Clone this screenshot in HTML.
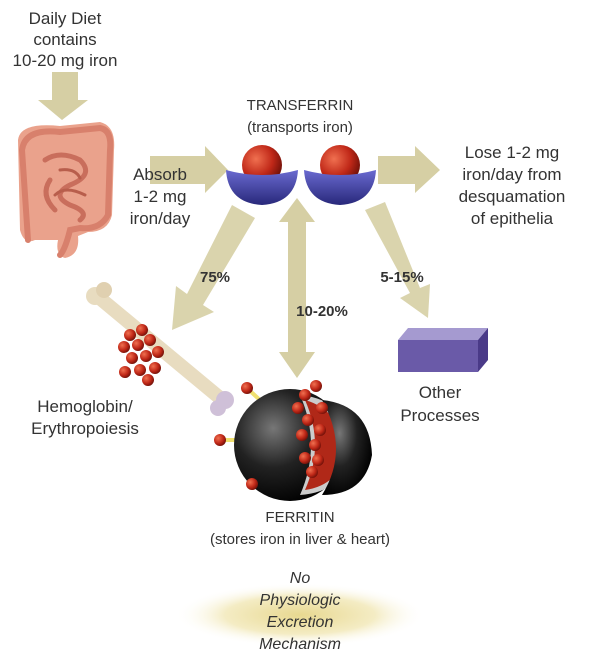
<!DOCTYPE html>
<html><head><meta charset="utf-8"><style>
html,body{margin:0;padding:0;background:#fff;}
svg{display:block;}
text{font-family:"Liberation Sans",sans-serif;fill:#333;}
</style></head><body>
<svg width="600" height="660" viewBox="0 0 600 660" xmlns="http://www.w3.org/2000/svg">
<defs>
<radialGradient id="ball" cx="0.35" cy="0.35" r="0.7"><stop offset="0" stop-color="#f07050"/><stop offset="0.6" stop-color="#c02818"/><stop offset="1" stop-color="#701008"/></radialGradient>
<radialGradient id="dark" cx="0.35" cy="0.35" r="0.7"><stop offset="0" stop-color="#777"/><stop offset="0.5" stop-color="#222"/><stop offset="1" stop-color="#000"/></radialGradient>
<linearGradient id="bowl" x1="0" y1="0" x2="0" y2="1"><stop offset="0" stop-color="#6a6ad0"/><stop offset="1" stop-color="#28287a"/></linearGradient>
<radialGradient id="glow" cx="0.5" cy="0.5" r="0.5"><stop offset="0" stop-color="#e8d890"/><stop offset="0.6" stop-color="#f4ecc4"/><stop offset="1" stop-color="#fff" stop-opacity="0"/></radialGradient>
<g id="rb"><circle r="6" fill="url(#ball)"/></g>
</defs>
<rect width="600" height="660" fill="#fff"/>
<g font-size="17" text-anchor="middle">
<text x="65" y="24">Daily Diet</text><text x="65" y="45">contains</text><text x="65" y="66">10-20 mg iron</text>
</g>
<polygon points="52,72 78,72 78,100 88,100 62,120 38,100 52,100" fill="#d6cfa4"/>
<!-- intestine -->
<path d="M18,140 Q20,122 60,126 L100,122 Q116,126 114,150 L112,215 Q108,232 88,232 L78,236 Q80,255 65,258 Q55,255 58,240 L35,240 Q24,245 20,230 Z" fill="#eaa28c"/>
<g fill="none" stroke-linecap="round">
<path d="M28,240 L22,150 Q25,128 60,132 L100,128 Q112,130 110,150 L108,215 Q100,230 80,228 L70,230 Q65,250 60,255" stroke="#d8806c" stroke-width="6"/>
<path d="M45,160 Q60,150 80,160 Q95,175 70,185 Q50,195 70,205 Q90,212 80,220 M50,180 Q40,195 55,210" stroke="#c96e5c" stroke-width="5"/>
<path d="M60,170 Q75,168 80,178 M55,195 Q65,185 85,195" stroke="#b85e4c" stroke-width="3"/>
</g>
<polygon points="150,156 205,156 205,146 228,170 205,193 205,184 150,184" fill="#d6cfa4"/>
<g font-size="17" text-anchor="middle">
<text x="160" y="180">Absorb</text><text x="160" y="202">1-2 mg</text><text x="160" y="224">iron/day</text>
</g>
<g font-size="15" text-anchor="middle"><text x="300" y="110">TRANSFERRIN</text><text x="300" y="132">(transports iron)</text></g>
<circle cx="262" cy="165" r="20" fill="url(#ball)"/>
<circle cx="340" cy="165" r="20" fill="url(#ball)"/>
<path d="M226,170 Q228,203 262,205 Q296,203 298,170 Q262,180 226,170Z" fill="url(#bowl)"/>
<path d="M304,170 Q306,203 340,205 Q374,203 376,170 Q340,180 304,170Z" fill="url(#bowl)"/>
<polygon points="378,156 415,156 415,146 440,170 415,193 415,184 378,184" fill="#d6cfa4"/>
<g font-size="17" text-anchor="middle">
<text x="512" y="158">Lose 1-2 mg</text><text x="512" y="180">iron/day from</text><text x="512" y="202">desquamation</text><text x="512" y="224">of epithelia</text>
</g>
<polygon points="232,205 255,218 203,305 214,312 172,330 176,286 187,294" fill="#d6cfa4" opacity="0.9"/>
<text x="200" y="282" font-size="15" font-weight="bold">75%</text>
<polygon points="297,198 315,222 306,222 306,352 315,352 297,378 279,352 288,352 288,222 279,222" fill="#d6cfa4"/>
<text x="322" y="316" font-size="15" font-weight="bold" text-anchor="middle">10-20%</text>
<polygon points="365,210 385,202 420,288 430,284 428,318 400,298 410,293" fill="#d6cfa4" opacity="0.9"/>
<text x="402" y="282" font-size="15" font-weight="bold" text-anchor="middle">5-15%</text>
<g>
<line x1="102" y1="300" x2="220" y2="398" stroke="#e8dcc0" stroke-width="14" stroke-linecap="round"/>
<circle cx="95" cy="296" r="9" fill="#e8dcc0"/><circle cx="104" cy="290" r="8" fill="#e0d0b0"/>
<circle cx="225" cy="400" r="9" fill="#cfc0d8"/><circle cx="218" cy="408" r="8" fill="#cfc0d8"/>
<use href="#rb" x="130" y="335"/><use href="#rb" x="142" y="330"/><use href="#rb" x="124" y="347"/><use href="#rb" x="138" y="345"/><use href="#rb" x="150" y="340"/><use href="#rb" x="132" y="358"/><use href="#rb" x="146" y="356"/><use href="#rb" x="158" y="352"/><use href="#rb" x="140" y="370"/><use href="#rb" x="155" y="368"/><use href="#rb" x="125" y="372"/><use href="#rb" x="148" y="380"/>
</g>
<g font-size="17" text-anchor="middle"><text x="85" y="412">Hemoglobin/</text><text x="85" y="434">Erythropoiesis</text></g>
<polygon points="408,328 488,328 478,340 398,340" fill="#a59ad0"/>
<rect x="398" y="340" width="80" height="32" fill="#6a5aa8"/>
<polygon points="478,340 488,328 488,360 478,372" fill="#4a3a88"/>
<g font-size="17" text-anchor="middle"><text x="440" y="398">Other</text><text x="440" y="421">Processes</text></g>
<g stroke="#f0e070" stroke-width="4"><line x1="247" y1="388" x2="262" y2="402"/><line x1="220" y1="440" x2="238" y2="440"/><line x1="252" y1="484" x2="264" y2="472"/></g>
<circle cx="290" cy="445" r="56" fill="url(#dark)"/>
<path d="M300,395 Q350,400 352,450 Q345,492 300,495 Q322,445 300,395Z" fill="#ccc"/>
<path d="M305,400 Q340,410 345,450 Q340,485 305,490 Q325,445 305,400Z" fill="#b02818"/>
<path d="M312,400 Q360,405 362,455 Q355,495 312,495 Q340,450 312,400Z" fill="url(#dark)" transform="translate(10,0)"/>
<g>
<use href="#rb" x="298" y="408"/><use href="#rb" x="308" y="420"/><use href="#rb" x="302" y="435"/><use href="#rb" x="315" y="445"/><use href="#rb" x="305" y="458"/><use href="#rb" x="312" y="472"/><use href="#rb" x="320" y="430"/><use href="#rb" x="318" y="460"/>
<use href="#rb" x="247" y="388"/><use href="#rb" x="305" y="395"/><use href="#rb" x="322" y="408"/><use href="#rb" x="316" y="386"/><use href="#rb" x="220" y="440"/><use href="#rb" x="252" y="484"/>
</g>
<g font-size="15" text-anchor="middle"><text x="300" y="522">FERRITIN</text><text x="300" y="544">(stores iron in liver &amp; heart)</text></g>
<ellipse cx="300" cy="615" rx="125" ry="32" fill="url(#glow)"/>
<g font-size="16" font-style="italic" text-anchor="middle"><text x="300" y="583">No</text><text x="300" y="605">Physiologic</text><text x="300" y="627">Excretion</text><text x="300" y="649">Mechanism</text></g>
</svg>
</body></html>
